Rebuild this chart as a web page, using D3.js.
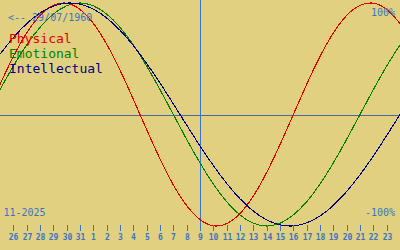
<!DOCTYPE html>
<html>
<head>
<meta charset="utf-8">
<script src="https://cdn.jsdelivr.net/npm/d3@7"></script>
<style>
html,body{margin:0;padding:0;background:#e0d080;}
svg{display:block;}
text{font-family:"DejaVu Sans Mono","Liberation Mono",monospace;}
</style>
</head>
<body>
<svg id="chart" width="400" height="250"></svg>
<script>
// Days shown (25 Oct 2025 .. 24 Nov 2025), index 15 = today (9 Nov)
const days = [25,26,27,28,29,30,31,1,2,3,4,5,6,7,8,9,10,11,12,13,14,15,16,17,18,19,20,21,22,23,24];
const todayIndex = 15;
const birthLabel = "<-- 29/07/1960";
const monthLabel = "11-2025";
const seriesNames = ["Physical","Emotional","Intellectual"];
const seriesColors = ["#e00000","#008000","#000080"];

// daily values (-1 .. 1)
const physical = [0.270,0.520,0.731,0.888,0.979,0.998,0.942,0.817,0.631,0.398,0.136,-0.136,-0.398,-0.631,-0.817,-0.942,-0.998,-0.979,-0.888,-0.731,-0.520,-0.270,0.000,0.270,0.520,0.731,0.888,0.979,0.998,0.942,0.817];
const emotional = [0.223,0.434,0.624,0.782,0.901,0.975,1.000,0.975,0.901,0.782,0.624,0.434,0.223,0.000,-0.223,-0.434,-0.624,-0.782,-0.901,-0.975,-1.000,-0.975,-0.901,-0.782,-0.624,-0.434,-0.223,0.000,0.223,0.434,0.624];
const intellectual = [0.541,0.690,0.815,0.910,0.972,0.999,0.990,0.945,0.866,0.756,0.618,0.458,0.282,0.095,-0.095,-0.282,-0.458,-0.618,-0.756,-0.866,-0.945,-0.990,-0.999,-0.972,-0.910,-0.815,-0.690,-0.541,-0.372,-0.189,0.000];
const yLabels = ["100%","-100%"];

const svg = d3.select("#chart");
const W = 400, H = 250;
svg.append("rect").attr("width",W).attr("height",H).attr("fill","#e0d080");

const x = d3.scaleLinear().domain([0, days.length-1]).range([0, W]);
const y = d3.scaleLinear().domain([-1, 1]).range([226, 3]);
const px = v => Math.round(v) + 0.5;

const axisColor = "#3a74c4";

// center line
svg.append("line")
  .attr("x1",0).attr("x2",W)
  .attr("y1",px(y(0))).attr("y2",px(y(0)))
  .attr("stroke","#4a6c9c").attr("stroke-width",1);

// today line
svg.append("line")
  .attr("x1",px(x(todayIndex))).attr("x2",px(x(todayIndex)))
  .attr("y1",0).attr("y2",226)
  .attr("stroke",axisColor).attr("stroke-width",1);

// curves
const line = d3.line().x((d,i)=>x(i)).y(d=>y(d)).curve(d3.curveNatural);
const allSeries = [physical, emotional, intellectual];
[1,0,2].forEach(k=>{
  svg.append("path")
    .attr("d", line(allSeries[k]))
    .attr("fill","none")
    .attr("stroke", seriesColors[k])
    .attr("stroke-width",1.1)
    .attr("shape-rendering","crispEdges");
});

// x axis ticks
const tickIdx = d3.range(1, days.length-1);
const axis = d3.axisBottom(x)
  .tickValues(tickIdx)
  .tickSize(6)
  .tickPadding(4)
  .tickFormat(i => days[i]);
const gA = svg.append("g").attr("transform","translate(0,224.5)").call(axis);
gA.select(".domain").remove();
gA.selectAll(".tick").attr("transform", i => `translate(${px(x(i))},0)`);
gA.selectAll(".tick line").attr("stroke",axisColor).attr("shape-rendering","crispEdges");
gA.selectAll(".tick text")
  .attr("fill",axisColor)
  .style("font-family","'DejaVu Sans Mono',monospace")
  .style("font-weight","bold")
  .style("font-size","8px");

// texts
svg.append("text").attr("x",8).attr("y",20.5)
  .attr("fill",axisColor).style("font-size","10px").text(birthLabel);
svg.append("text").attr("x",395).attr("y",16)
  .attr("text-anchor","end").attr("fill",axisColor).style("font-size","10px").text(yLabels[0]);
svg.append("text").attr("x",395).attr("y",216)
  .attr("text-anchor","end").attr("fill",axisColor).style("font-size","10px").text(yLabels[1]);
svg.append("text").attr("x",3.5).attr("y",216)
  .attr("fill",axisColor).style("font-size","10px").text(monthLabel);

// legend
seriesNames.forEach((n,k)=>{
  svg.append("text").attr("x",9).attr("y",43 + k*15)
    .attr("fill",seriesColors[k]).style("font-size","13px").text(n);
});
</script>
</body>
</html>
